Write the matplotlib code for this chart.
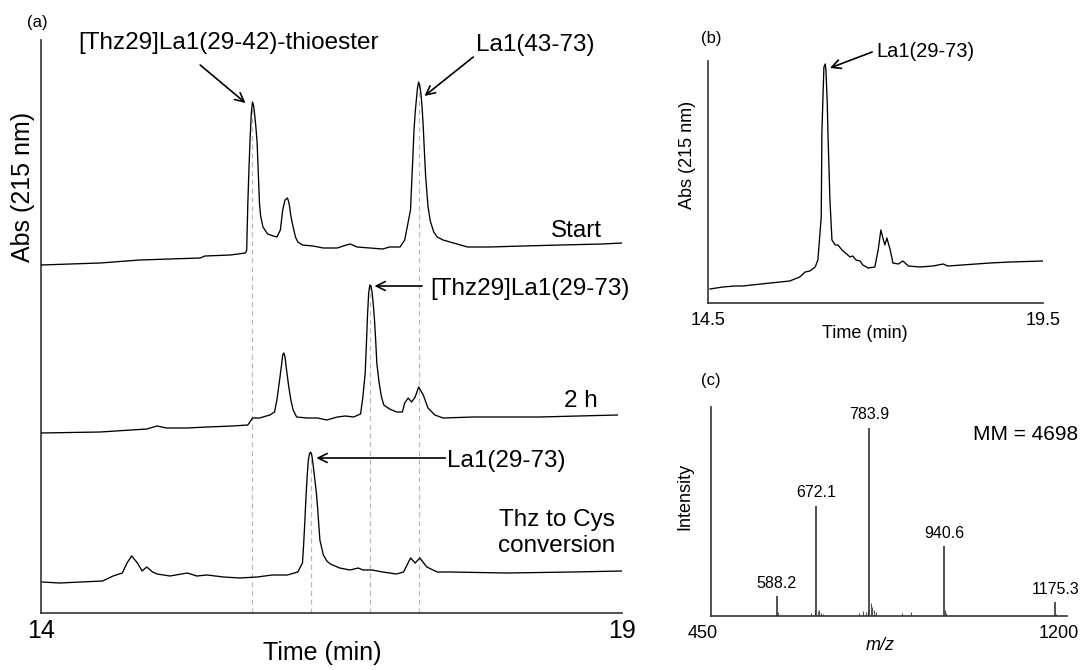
import numpy as np
import matplotlib.pyplot as plt
import matplotlib.transforms as mtransforms

plt.rcParams['font.family'] = ['Liberation Sans', 'DejaVu Sans']

W, H = 1085, 670


def fx(x):
    return x / W


def fy(y):
    return 1 - y / H


# (a) HPLC traces: time (min), absorbance above each trace's own baseline
start_t = [14.00, 14.51, 14.85, 15.37, 15.41, 15.63, 15.76, 15.77, 15.78, 15.79, 15.80, 15.81, 15.82,
           15.83, 15.84, 15.85, 15.86, 15.87, 15.88, 15.89, 15.91, 15.95, 16.00, 16.03, 16.06, 16.08,
           16.10, 16.12, 16.13, 16.14, 16.15, 16.17, 16.19, 16.21, 16.25, 16.34, 16.43, 16.55, 16.60,
           16.66, 16.72, 16.83, 16.94, 17.00, 17.09, 17.13, 17.15, 17.18, 17.19, 17.20, 17.21, 17.22,
           17.23, 17.24, 17.25, 17.26, 17.27, 17.28, 17.29, 17.30, 17.31, 17.33, 17.35, 17.38, 17.41,
           17.46, 17.52, 17.67, 17.86, 18.15, 18.47, 18.83, 19.00]
start_abs = [0.03, 0.05, 0.08, 0.10, 0.12, 0.13, 0.15, 0.18, 0.65, 1.00, 1.31, 1.55, 1.66,
             1.62, 1.52, 1.40, 1.25, 0.95, 0.65, 0.52, 0.41, 0.34, 0.32, 0.31, 0.38, 0.58,
             0.68, 0.70, 0.67, 0.61, 0.52, 0.41, 0.31, 0.26, 0.23, 0.22, 0.20, 0.20, 0.22,
             0.24, 0.21, 0.20, 0.19, 0.21, 0.21, 0.28, 0.40, 0.58, 0.85, 1.10, 1.38, 1.55,
             1.68, 1.80, 1.86, 1.82, 1.74, 1.60, 1.40, 1.15, 0.92, 0.62, 0.47, 0.36, 0.31,
             0.28, 0.26, 0.21, 0.21, 0.22, 0.23, 0.24, 0.25]

h2_t = [14.00, 14.51, 14.91, 15.00, 15.08, 15.26, 15.43, 15.65, 15.78, 15.82, 15.88, 15.97, 16.01,
        16.03, 16.05, 16.07, 16.08, 16.09, 16.10, 16.11, 16.13, 16.15, 16.17, 16.20, 16.29, 16.38,
        16.46, 16.55, 16.62, 16.69, 16.75, 16.77, 16.79, 16.80, 16.81, 16.82, 16.83, 16.84, 16.85,
        16.86, 16.87, 16.88, 16.89, 16.91, 16.93, 16.95, 17.00, 17.06, 17.11, 17.13, 17.16, 17.19,
        17.22, 17.25, 17.29, 17.33, 17.39, 17.46, 17.72, 18.29, 18.96]
h2_abs = [0.02, 0.03, 0.06, 0.09, 0.07, 0.07, 0.08, 0.09, 0.10, 0.17, 0.17, 0.20, 0.23,
          0.35, 0.52, 0.70, 0.80, 0.82, 0.78, 0.68, 0.50, 0.35, 0.25, 0.18, 0.17, 0.17,
          0.15, 0.18, 0.19, 0.18, 0.21, 0.38, 0.62, 0.90, 1.20, 1.42, 1.50, 1.49, 1.42,
          1.30, 1.15, 0.95, 0.72, 0.52, 0.38, 0.30, 0.26, 0.23, 0.23, 0.32, 0.37, 0.33,
          0.38, 0.48, 0.40, 0.27, 0.20, 0.17, 0.18, 0.18, 0.20]

thz_t = [14.01, 14.16, 14.53, 14.62, 14.70, 14.74, 14.78, 14.83, 14.87, 14.91, 14.96, 15.00, 15.11,
         15.26, 15.34, 15.43, 15.57, 15.71, 15.86, 15.99, 16.12, 16.21, 16.25, 16.26, 16.27, 16.28,
         16.29, 16.30, 16.31, 16.32, 16.33, 16.34, 16.35, 16.37, 16.38, 16.40, 16.43, 16.46, 16.49,
         16.57, 16.66, 16.73, 16.77, 16.85, 16.94, 17.06, 17.12, 17.18, 17.22, 17.26, 17.32, 17.41,
         17.52, 18.01, 18.58, 19.00]
thz_abs = [0.01, 0.00, 0.02, 0.07, 0.10, 0.20, 0.27, 0.20, 0.12, 0.16, 0.11, 0.09, 0.07,
           0.10, 0.07, 0.08, 0.06, 0.05, 0.06, 0.08, 0.08, 0.11, 0.20, 0.38, 0.60, 0.85,
           1.06, 1.22, 1.29, 1.31, 1.28, 1.20, 1.10, 0.90, 0.76, 0.43, 0.28, 0.22, 0.19,
           0.15, 0.13, 0.15, 0.13, 0.13, 0.11, 0.09, 0.11, 0.25, 0.20, 0.25, 0.16, 0.11,
           0.11, 0.10, 0.11, 0.12]

trace_names = ['Start', '2 h', 'Thz to Cys\nconversion']
trace_offsets = [3.45, 1.78, 0.30]
traces = [(start_t, start_abs), (h2_t, h2_abs), (thz_t, thz_abs)]

# dashed guides: (retention time, trace index)
guides = [(15.82, 0), (17.25, 0), (16.83, 1), (16.32, 2)]

# (b) purified La1(29-73)
pure_t = [14.53, 14.72, 14.90, 15.02, 15.43, 15.72, 15.87, 15.95, 16.02, 16.10, 16.14, 16.19, 16.20,
          16.22, 16.23, 16.25, 16.26, 16.28, 16.29, 16.32, 16.35, 16.40, 16.44, 16.50, 16.57, 16.62,
          16.66, 16.71, 16.77, 16.81, 16.89, 16.99, 17.04, 17.08, 17.11, 17.14, 17.17, 17.22, 17.26,
          17.34, 17.41, 17.49, 17.66, 17.86, 18.01, 18.08, 18.71, 19.01, 19.50]
pure_abs = [0.14, 0.16, 0.17, 0.17, 0.20, 0.22, 0.26, 0.31, 0.32, 0.36, 0.43, 0.86, 1.70,
            2.15, 2.36, 2.39, 2.33, 2.00, 1.70, 1.03, 0.63, 0.58, 0.58, 0.53, 0.49, 0.46,
            0.47, 0.43, 0.42, 0.38, 0.35, 0.36, 0.53, 0.73, 0.65, 0.58, 0.65, 0.53, 0.40,
            0.39, 0.42, 0.37, 0.36, 0.37, 0.39, 0.37, 0.40, 0.41, 0.42]

# (c) ESI-MS
mz_major = [588.2, 672.1, 783.9, 940.6, 1175.3]
int_major = [10.6, 58.5, 100.0, 37.0, 7.4]
mz_minor = [591.5, 660.0, 669.5, 674.5, 677.0, 681.0, 686.0, 762.0, 770.0, 776.0, 781.0, 786.5,
            790.0, 793.0, 798.0, 852.0, 871.0, 942.5, 945.5, 1177.5]
int_minor = [2.0, 1.5, 3.0, 2.5, 3.0, 1.5, 1.0, 1.5, 2.5, 2.0, 3.0, 7.0,
             5.0, 3.0, 2.0, 1.5, 2.0, 3.0, 1.5, 1.0]

fig = plt.figure(figsize=(10.85, 6.7), dpi=100)

spine_col = '#333333'
arrow = dict(arrowstyle='->', lw=1.2, color='k', mutation_scale=16, shrinkA=0, shrinkB=0)


def style_axes(ax, fs, pad):
    for s in ['top', 'right']:
        ax.spines[s].set_visible(False)
    for s in ['left', 'bottom']:
        ax.spines[s].set_color(spine_col)
        ax.spines[s].set_linewidth(1.2)
    ax.set_yticks([])
    ax.tick_params(axis='x', length=0, labelsize=fs, pad=pad)


# ---- (a)
axa = fig.add_axes([fx(41), fy(613), (622 - 41) / W, (613 - 40) / H])
for (t, a), off in zip(traces, trace_offsets):
    axa.plot(t, np.array(a) + off, color='k', lw=0.95, zorder=3)
for tg, idx in guides:
    t, a = traces[idx]
    t = np.array(t)
    a = np.array(a)
    top = a[np.abs(t - tg) < 0.06].max() + trace_offsets[idx]
    axa.vlines(tg, 0, top, colors='#bbbbbb', linestyles=(0, (4, 3)), lw=0.9, zorder=1)
axa.set_xlim(14, 19)
axa.set_ylim(0, 5.73)
style_axes(axa, 18, 4.5)
axa.set_xticks([14, 19])
axa.set_xticklabels(['14', '19'])

axa.text(15.61, 5.70, '[Thz29]La1(29-42)-thioester', fontsize=17.5, ha='center', va='center')
axa.annotate('', xy=(15.76, 5.10), xytext=(15.37, 5.48), arrowprops=arrow, annotation_clip=False)
axa.text(17.74, 5.68, 'La1(43-73)', fontsize=17.5, ha='left', va='center')
axa.annotate('', xy=(17.30, 5.17), xytext=(17.72, 5.56), arrowprops=arrow, annotation_clip=False)
axa.text(17.35, 3.24, '[Thz29]La1(29-73)', fontsize=17.5, ha='left', va='center')
axa.annotate('', xy=(16.87, 3.27), xytext=(17.28, 3.27), arrowprops=arrow)
axa.text(17.49, 1.52, 'La1(29-73)', fontsize=17.5, ha='left', va='center')
axa.annotate('', xy=(16.37, 1.55), xytext=(17.48, 1.55), arrowprops=arrow)

label_pos = [(18.83, 3.82), (18.79, 2.12), (18.94, 0.80)]
for name, (lx, ly) in zip(trace_names, label_pos):
    axa.text(lx, ly, name, fontsize=17.5, ha='right', va='center')

fig.text(fx(322), fy(653), 'Time (min)', fontsize=18, ha='center', va='center')
fig.text(fx(23), fy(187), 'Abs (215 nm)', fontsize=18, ha='center', va='center', rotation=90)
fig.text(fx(37), fy(23), '(a)', fontsize=12, ha='center', va='center')

# ---- (b)
axb = fig.add_axes([fx(708), fy(303), (1043 - 708) / W, (303 - 61) / H])
axb.plot(pure_t, pure_abs, color='k', lw=0.95)
axb.set_xlim(14.5, 19.5)
axb.set_ylim(0, 2.42)
style_axes(axb, 13, 6.5)
axb.set_xticks([14.5, 19.5])
axb.set_xticklabels(['14.5', '19.5'])
axb.text(17.02, 2.51, 'La1(29-73)', fontsize=14.5, ha='left', va='center')
axb.annotate('', xy=(16.32, 2.35), xytext=(16.95, 2.51), arrowprops=arrow, annotation_clip=False)
fig.text(fx(865), fy(334), 'Time (min)', fontsize=13, ha='center', va='center')
fig.text(fx(687), fy(155), 'Abs (215 nm)', fontsize=13, ha='center', va='center', rotation=90)
fig.text(fx(711), fy(39), '(b)', fontsize=12, ha='center', va='center')

# ---- (c)
axc = fig.add_axes([fx(711), fy(616), (1067 - 711) / W, (616 - 407) / H])
axc.vlines(mz_minor, 0, int_minor, colors='#555555', lw=0.8)
axc.vlines(mz_major, 0, int_major, colors='#222222', lw=1.1)
for mz, it in zip(mz_major, int_major):
    axc.annotate(f'{mz:.1f}', xy=(mz, it), xytext=(0, 4), textcoords='offset points',
                 ha='center', va='bottom', fontsize=11.5)
axc.set_xlim(450, 1200)
axc.set_ylim(0, 111.2)
style_axes(axc, 13, 6.5)
axc.set_xticks([450, 1200])
axc.set_xticklabels(['450', '1200'])
shift = mtransforms.ScaledTranslation(-6 / 72, 0, fig.dpi_scale_trans)
for lab in axc.get_xticklabels():
    lab.set_transform(lab.get_transform() + shift)
fig.text(fx(1078), fy(435), 'MM = 4698', fontsize=15, ha='right', va='center')
fig.text(fx(880), fy(645), 'm/z', fontsize=13, style='italic', ha='center', va='center')
fig.text(fx(685), fy(496), 'Intensity', fontsize=13, ha='center', va='center', rotation=90)
fig.text(fx(711), fy(380), '(c)', fontsize=12, ha='center', va='center')

fig.savefig('out.png', dpi=100)
